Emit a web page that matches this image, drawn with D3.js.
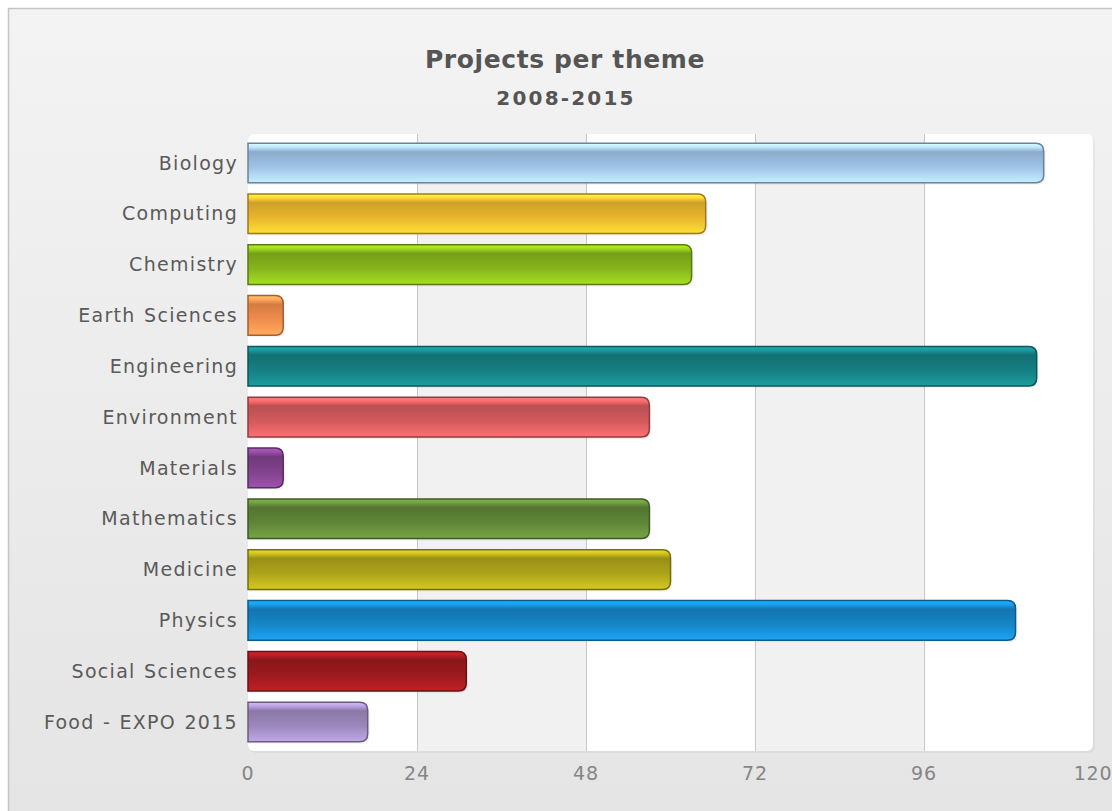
<!DOCTYPE html>
<html>
<head>
<meta charset="utf-8">
<script src="https://cdn.jsdelivr.net/npm/d3@7"></script>
<style>
  body { margin: 0; background: #fff; }
  text { font-family: "DejaVu Sans", Verdana, sans-serif; }
</style>
</head>
<body>
<div class="chart"></div>
<script>
// data
const themes = ["Biology", "Computing", "Chemistry", "Earth Sciences", "Engineering", "Environment",
  "Materials", "Mathematics", "Medicine", "Physics", "Social Sciences", "Food - EXPO 2015"];
const projects = [113, 65, 63, 5, 112, 57, 5, 57, 60, 109, 31, 17];
const barColors = ["#9fc2e6", "#e8b52c", "#86b41c", "#f08c4c", "#167f82", "#d25a5c",
  "#80428c", "#5f8538", "#aca31a", "#1685c6", "#9c1a1e", "#9c88bc"];
const xTicks = [0, 24, 48, 72, 96, 120];

const W = 1112, H = 811;
const margin = {top: 134, right: 19, bottom: 60, left: 248};

const svg = d3.select('.chart')
  .append('svg')
  .attr('width', W)
  .attr('height', H);

const defs = svg.append('defs');

// background gradient
const bg = defs.append('linearGradient').attr('id', 'bg').attr('x1', 0).attr('y1', 0).attr('x2', 0).attr('y2', 1);
bg.append('stop').attr('offset', '0%').attr('stop-color', '#f3f3f3');
bg.append('stop').attr('offset', '100%').attr('stop-color', '#e4e4e4');

svg.append('rect').attr('width', W).attr('height', H).attr('fill', '#fff');
svg.append('rect')
  .attr('x', 8.5).attr('y', 8.5)
  .attr('width', W + 20).attr('height', H + 20)
  .attr('fill', 'url(#bg)')
  .attr('stroke', '#c4c4c4')
  .attr('stroke-width', 1.5);

// scales
const x = d3.scaleLinear()
  .domain([0, 120])
  .range([margin.left, W - margin.right]);

const y = d3.scaleBand()
  .domain(themes)
  .range([margin.top, H - margin.bottom])
  .paddingInner(0.22)
  .paddingOuter(0.18);

// plot area
const plotW = x(120) - x(0), plotH = H - margin.bottom - margin.top;
svg.append('rect')
  .attr('x', x(0) + 2).attr('y', margin.top + 2)
  .attr('width', plotW).attr('height', plotH)
  .attr('rx', 6)
  .attr('fill', '#000').attr('opacity', 0.04);
svg.append('rect')
  .attr('x', x(0)).attr('y', margin.top)
  .attr('width', plotW).attr('height', plotH)
  .attr('rx', 6)
  .attr('fill', '#ffffff');

// alternate bands
svg.append('g')
  .selectAll('rect')
  .data(d3.range(0, xTicks.length - 1).filter(i => i % 2 === 1))
  .join('rect')
  .attr('x', i => x(xTicks[i]))
  .attr('y', margin.top)
  .attr('width', i => x(xTicks[i + 1]) - x(xTicks[i]))
  .attr('height', plotH)
  .attr('fill', '#f1f1f1');

// grid lines
svg.append('g')
  .selectAll('line')
  .data(xTicks.slice(1, -1))
  .join('line')
  .attr('x1', d => Math.round(x(d)) + 0.5)
  .attr('x2', d => Math.round(x(d)) + 0.5)
  .attr('y1', margin.top)
  .attr('y2', H - margin.bottom)
  .attr('stroke', '#c8c8c8');

// glossy gradients per bar
barColors.forEach((c, i) => {
  const g = defs.append('linearGradient').attr('id', 'bar' + i)
    .attr('x1', 0).attr('y1', 0).attr('x2', 0).attr('y2', 1);
  const base = d3.color(c);
  g.append('stop').attr('offset', '0%').attr('stop-color', base.brighter(0.9));
  g.append('stop').attr('offset', '10%').attr('stop-color', base.brighter(0.5));
  g.append('stop').attr('offset', '22%').attr('stop-color', base.darker(0.35));
  g.append('stop').attr('offset', '60%').attr('stop-color', base);
  g.append('stop').attr('offset', '100%').attr('stop-color', base.brighter(0.6));
});

// bar with square left and rounded right end
function barPath(x0, y0, w, h, r) {
  r = Math.min(r, w / 2, h / 2);
  return `M${x0},${y0}H${x0 + w - r}Q${x0 + w},${y0} ${x0 + w},${y0 + r}` +
    `V${y0 + h - r}Q${x0 + w},${y0 + h} ${x0 + w - r},${y0 + h}H${x0}Z`;
}

const bars = svg.append('g');
bars.selectAll('path.shadow')
  .data(projects)
  .join('path')
  .attr('class', 'shadow')
  .attr('d', (d, i) => barPath(x(0), y(themes[i]) + 2, x(d) - x(0) + 2, y.bandwidth(), 8))
  .attr('fill', '#000')
  .attr('opacity', 0.05);

bars.selectAll('path.bar')
  .data(projects)
  .join('path')
  .attr('class', 'bar')
  .attr('d', (d, i) => barPath(x(0), y(themes[i]), x(d) - x(0), y.bandwidth(), 8))
  .attr('fill', (d, i) => `url(#bar${i})`)
  .attr('stroke', (d, i) => d3.color(barColors[i]).darker(1.1))
  .attr('stroke-width', 1.5);

// category labels
svg.append('g')
  .attr('font-size', 19)
  .attr('fill', '#5a5a5a')
  .attr('letter-spacing', 1.3)
  .attr('word-spacing', 1)
  .selectAll('text')
  .data(themes)
  .join('text')
  .attr('x', x(0) - 10)
  .attr('y', d => y(d) + y.bandwidth() / 2)
  .attr('dy', '0.35em')
  .attr('text-anchor', 'end')
  .text(d => d);

// x axis tick labels
svg.append('g')
  .attr('font-size', 19)
  .attr('fill', '#858585')
  .attr('letter-spacing', 0.8)
  .selectAll('text')
  .data(xTicks)
  .join('text')
  .attr('x', d => x(d))
  .attr('y', H - margin.bottom + 29)
  .attr('text-anchor', 'middle')
  .text(d => d);

// titles
svg.append('text')
  .attr('x', 565).attr('y', 68)
  .attr('text-anchor', 'middle')
  .attr('font-size', 25)
  .attr('font-weight', 'bold')
  .attr('letter-spacing', 0.6)
  .attr('fill', '#555')
  .text('Projects per theme');

svg.append('text')
  .attr('x', 566).attr('y', 105)
  .attr('text-anchor', 'middle')
  .attr('font-size', 20)
  .attr('font-weight', 'bold')
  .attr('letter-spacing', 2.2)
  .attr('fill', '#555')
  .text('2008-2015');
</script>
</body>
</html>
